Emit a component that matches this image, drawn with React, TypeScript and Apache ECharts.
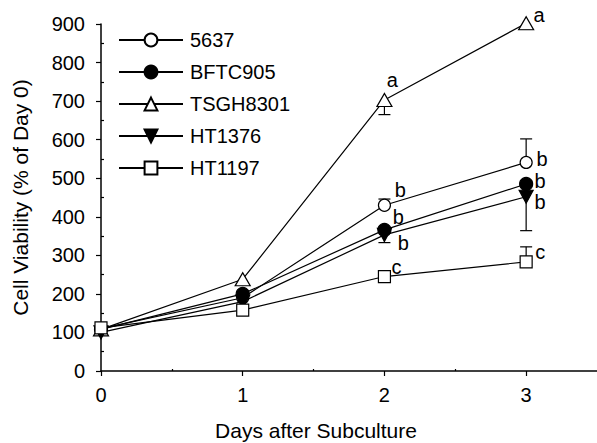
import React, { useEffect, useRef } from "react";
import * as echarts from "echarts";

const days = [0, 1, 2, 3];
const seriesNames = ["5637", "BFTC905", "TSGH8301", "HT1376", "HT1197"];
const v5637 = [110, 190, 430, 541];
const vBFTC905 = [108, 200, 366, 485];
const vTSGH8301 = [108, 238, 703, 902];
const vHT1376 = [100, 180, 353, 452];
const vHT1197 = [112, 158, 245, 283];
// error bar end values (null = no visible bar)
const e5637 = [null, null, 446, 602];
const eBFTC905 = [null, null, null, null];
const eTSGH8301 = [null, null, 665, 886];
const eHT1376 = [null, null, 333, 364];
const eHT1197 = [null, null, 258, 322];
// significance letters
const l5637 = ["", "", "b", "b"];
const lBFTC905 = ["", "", "b", "b"];
const lTSGH8301 = ["", "", "a", "a"];
const lHT1376 = ["", "", "b", "b"];
const lHT1197 = ["", "", "c", "c"];
const yTicks = [0, 100, 200, 300, 400, 500, 600, 700, 800, 900];
const yMinor = [50, 150, 250, 350, 450, 550, 650, 750, 850];
const xTicks = [0, 1, 2, 3];
const xMinor = [0.5, 1.5, 2.5];

const FONT = "Liberation Sans, Arial, Helvetica, sans-serif";

// label offsets (style only)
const labelOffsets: Record<string, number[][]> = {
  "5637": [[0, 0], [0, 0], [16, -15], [16, -3]],
  BFTC905: [[0, 0], [0, 0], [14, -13], [14, -3]],
  TSGH8301: [[0, 0], [0, 0], [8, -20], [13, -8]],
  HT1376: [[0, 0], [0, 0], [19, 8], [14, 5]],
  HT1197: [[0, 0], [0, 0], [12, -10], [14, -10]],
};

const symbols: Record<string, any> = {
  "5637": { symbol: "circle", size: 12, fill: "#fff" },
  BFTC905: { symbol: "circle", size: 13, fill: "#000" },
  TSGH8301: { symbol: "triangle", size: [15, 13], fill: "#fff" },
  HT1376: { symbol: "path://M0,0L10,0L5,9Z", size: [14, 13], fill: "#000" },
  HT1197: { symbol: "rect", size: 12, fill: "#fff" },
};

export default function App() {
  const ref = useRef<HTMLDivElement>(null);
  useEffect(() => {
    if (!ref.current) return;
    const chart = echarts.init(ref.current, null, { renderer: "svg" });
    const vals = [v5637, vBFTC905, vTSGH8301, vHT1376, vHT1197];
    const errs = [e5637, eBFTC905, eTSGH8301, eHT1376, eHT1197];
    const letters = [l5637, lBFTC905, lTSGH8301, lHT1376, lHT1197];

    const lineSeries = seriesNames.map((name, si) => {
      const s = symbols[name];
      return {
        name,
        type: "line",
        xAxisIndex: 0,
        yAxisIndex: 0,
        z: 3,
        clip: false,
        symbol: s.symbol,
        symbolSize: s.size,
        showAllSymbol: true,
        lineStyle: { color: "#000", width: 1.2 },
        itemStyle: { color: s.fill, borderColor: "#000", borderWidth: 1.2, opacity: 1 },
        data: days.map((d, i) => {
          const letter = letters[si][i];
          const off = labelOffsets[name][i];
          return {
            value: [d, vals[si][i]],
            label: letter
              ? {
                  show: true,
                  formatter: letter,
                  position: "inside",
                  offset: off,
                  color: "#000",
                  fontSize: 20,
                  fontFamily: FONT,
                }
              : { show: false },
          };
        }),
      };
    });

    const errData: number[][] = [];
    errs.forEach((arr, si) => {
      arr.forEach((e, i) => {
        if (e !== null) errData.push([days[i], vals[si][i], e as number]);
      });
    });

    const errSeries = {
      type: "custom",
      name: "err",
      z: 1,
      clip: false,
      xAxisIndex: 0,
      yAxisIndex: 0,
      data: errData,
      renderItem: (params: any, api: any) => {
        const p0 = api.coord([api.value(0), api.value(1)]);
        const p1 = api.coord([api.value(0), api.value(2)]);
        const hw = 6;
        return {
          type: "group",
          children: [
            { type: "line", shape: { x1: p0[0], y1: p0[1], x2: p1[0], y2: p1[1] }, style: { stroke: "#000", lineWidth: 1.2 } },
            { type: "line", shape: { x1: p1[0] - hw, y1: p1[1], x2: p1[0] + hw, y2: p1[1] }, style: { stroke: "#000", lineWidth: 1.2 } },
          ],
        };
      },
    };

    chart.setOption({
      animation: false,
      backgroundColor: "#fff",
      grid: { left: 101, right: -2, top: 24, bottom: 72, containLabel: false },
      legend: {
        data: seriesNames,
        orient: "vertical",
        left: 118,
        top: 30,
        padding: 0,
        itemWidth: 64,
        itemHeight: 16,
        itemGap: 12,
        textStyle: { fontSize: 20, color: "#000", fontFamily: FONT, padding: [0, 0, 0, 2] },
      },
      xAxis: [
        {
          type: "value",
          min: 0,
          max: 3.5,
          interval: 1,
          axisLine: { show: true, onZero: false, lineStyle: { color: "#000", width: 1.5 } },
          axisTick: { show: true, length: 5, customValues: xTicks, lineStyle: { color: "#000", width: 1.2 } },
          axisLabel: { customValues: xTicks, margin: 14, fontSize: 20, color: "#000", fontFamily: FONT },
          splitLine: { show: false },
        },
        {
          type: "value",
          min: 0,
          max: 3.5,
          position: "bottom",
          axisLine: { show: false },
          axisTick: { show: true, inside: true, length: 2, customValues: xMinor, lineStyle: { color: "#000", width: 1.2 } },
          axisLabel: { show: false },
          splitLine: { show: false },
        },
      ],
      yAxis: [
        {
          type: "value",
          min: 0,
          max: 900,
          interval: 100,
          name: "Cell Viability (% of Day 0)",
          nameLocation: "middle",
          nameGap: 70,
          nameTextStyle: { fontSize: 21, color: "#000", fontFamily: FONT },
          axisLine: { show: true, onZero: false, lineStyle: { color: "#000", width: 1.5 } },
          axisTick: { show: true, length: 5, customValues: yTicks, lineStyle: { color: "#000", width: 1.2 } },
          axisLabel: { customValues: yTicks, margin: 16, fontSize: 20, color: "#000", fontFamily: FONT },
          splitLine: { show: false },
        },
        {
          type: "value",
          min: 0,
          max: 900,
          position: "left",
          axisLine: { show: false },
          axisTick: { show: true, inside: true, length: 3, customValues: yMinor, lineStyle: { color: "#000", width: 1.2 } },
          axisLabel: { show: false },
          splitLine: { show: false },
        },
      ],
      graphic: [
        {
          type: "text",
          x: 316,
          y: 430,
          style: {
            text: "Days after Subculture",
            fontSize: 21,
            fontFamily: FONT,
            fill: "#000",
            align: "center",
            verticalAlign: "middle",
          },
        },
      ],
      series: [errSeries, ...lineSeries],
    });
    return () => chart.dispose();
  }, []);
  return <div ref={ref} style={{ width: 597, height: 443, position: "absolute", left: 0, top: 0 }} />;
}
